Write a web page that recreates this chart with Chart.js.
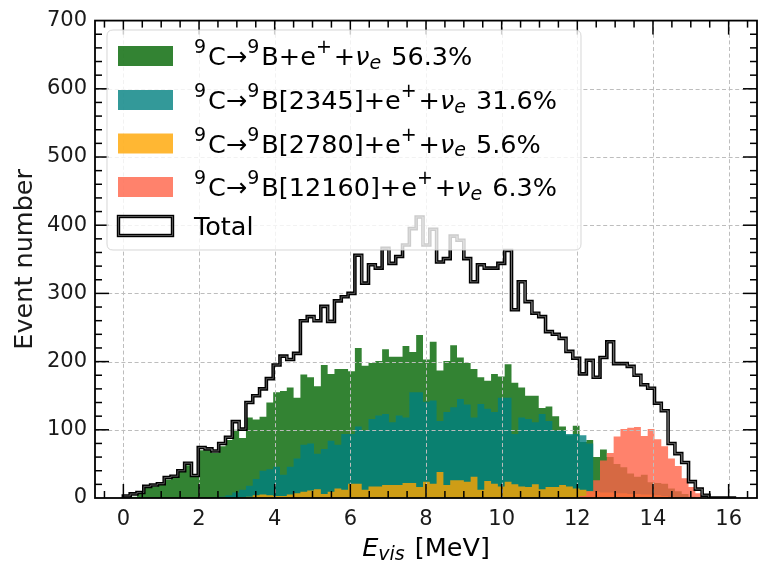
<!DOCTYPE html>
<html><head><meta charset="utf-8">
<script src="https://cdn.jsdelivr.net/npm/chart.js@4.4.1/dist/chart.umd.min.js"></script>
<style>html,body{margin:0;padding:0;background:#fff}#wrap{width:768px;height:563px}</style>
</head><body><div id="wrap"><canvas id="c" width="768" height="563"></canvas></div>
<script>
// ---------------- data ----------------
const BIN_WIDTH = 0.18; // MeV, bins start at 0
const xTickValues = [0, 2, 4, 6, 8, 10, 12, 14, 16];
const yTickValues = [0, 100, 200, 300, 400, 500, 600, 700];
const seriesLabels = [
  '^{9}C→^{9}B+e^{+}+ν_{e} 56.3%',
  '^{9}C→^{9}B[2345]+e^{+}+ν_{e} 31.6%',
  '^{9}C→^{9}B[2780]+e^{+}+ν_{e} 5.6%',
  '^{9}C→^{9}B[12160]+e^{+}+ν_{e} 6.3%'
];
const totalLabel = 'Total';
const xTitle = 'E_{vis} [MeV]';
const yTitle = 'Event number';

const groundState = [0,2,8,15,17,19,27,30,38,48, 31,70,70,66,76,85,100,88,118,115,
  119,140,155,157,162,147,181,177,164,195, 182,189,189,186,220,194,198,201,218,207,
  207,223,214,239,203,229,187,201,224,206, 198,189,177,172,182,178,196,169,162,150,
  150,132,134,120,105,92,106,82,85,60, 71,60,50,45,36,31,34,23,22,21,
  14,10,6,2,0,0,0,0,0,0];
const state2345 = [0,0,0,0,0,0,0,0,0,0, 0,0,0,1,2,4,8,12,18,28,
  40,42,46,34,46,58,78,80,65,72, 84,78,94,94,105,99,116,121,123,111,
  121,118,155,155,141,143,113,126,133,145, 137,118,138,131,126,147,147,94,118,116,
  111,123,113,99,99,94,94,92,80,0, 0,0,0,0,0,0,0,0,0,0,
  0,0,0,0,0,0,0,0,0,0];
const state2780 = [0,0,0,0,0,0,0,0,0,0, 0,0,0,0,0,0,0,1,2,4,
  5,4,3,3,5,7,9,11,13,6, 9,14,12,21,21,12,17,17,19,19,
  19,22,22,16,24,21,38,19,26,26, 24,31,12,25,21,17,24,20,17,16,
  20,13,16,16,19,17,14,12,10,9, 8,8,7,7,6,6,5,5,4,3,
  2,1,0,0,0,0,0,0,0,0];
const state12160 = [0,0,0,0,0,0,0,0,0,0, 0,0,0,0,0,0,0,0,0,0,
  0,0,0,0,0,0,0,0,0,0, 0,0,0,0,0,0,0,0,0,0,
  0,0,0,0,0,0,0,0,0,0, 0,0,0,0,0,0,0,0,0,0,
  0,0,0,0,0,0,0,3,10,26, 55,66,90,101,103,104,91,101,86,76,
  58,47,29,16,7,0,0,0,0,0];
const totalCounts = [3,6,8,17,19,21,30,32,40,51, 33,74,72,69,80,89,112,101,140,150,
  160,175,195,208,203,212,260,266,260,281, 259,289,295,300,356,315,342,337,366,344,
  354,371,395,412,371,394,346,351,384,378, 351,317,342,337,337,344,363,276,317,288,
  271,266,244,240,234,215,205,182,202,177, 206,229,197,197,193,180,166,161,139,128,
  80,65,52,24,13,4,0,0,0,0];

// ---------------- styles ----------------
const FONT = '"DejaVu Sans", "Liberation Sans", sans-serif';
const fillColors = ['rgba(0,100,0,0.8)', 'rgba(0,128,128,0.8)', 'rgba(255,165,0,0.8)', 'rgba(255,99,71,0.8)'];
const seriesValues = [groundState, state2345, state2780, state12160];
const INNER = 'rgb(105,105,105)';

function stepPoints(vals) {
  const pts = [{x: 0, y: 0}];
  vals.forEach((v, i) => {
    pts.push({x: i * BIN_WIDTH, y: v});
    pts.push({x: (i + 1) * BIN_WIDTH, y: v});
  });
  pts.push({x: vals.length * BIN_WIDTH, y: 0});
  return pts;
}

const datasets = seriesValues.map((vals, i) => ({
  label: seriesLabels[i], data: stepPoints(vals), parsing: false,
  fill: 'origin', backgroundColor: fillColors[i], borderColor: 'rgba(0,0,0,0)', borderWidth: 0,
  pointRadius: 0, tension: 0, order: 5 - i
}));
datasets.push({label: totalLabel, data: stepPoints(totalCounts), parsing: false, fill: false,
  borderColor: '#000', borderWidth: 3.6, pointRadius: 0, tension: 0, order: 1, borderJoinStyle: 'miter'});
datasets.push({label: '_inner', data: stepPoints(totalCounts), parsing: false, fill: false,
  borderColor: INNER, borderWidth: 0.8, pointRadius: 0, tension: 0, order: 0, borderJoinStyle: 'miter'});
const TOTAL_INDEX = 4;

// ---------------- rich text ----------------
function parseMarkup(s) {
  const out = []; let i = 0, buf = '';
  while (i < s.length) {
    const ch = s[i];
    if ((ch === '^' || ch === '_') && s[i + 1] === '{') {
      if (buf) { out.push({t: buf, k: 'n'}); buf = ''; }
      const j = s.indexOf('}', i);
      out.push({t: s.slice(i + 2, j), k: ch === '^' ? 'sup' : 'sub'});
      i = j + 1;
    } else { buf += ch; i++; }
  }
  if (buf) out.push({t: buf, k: 'n'});
  const res = [];
  out.forEach(tok => {
    if (tok.k !== 'n') { res.push(tok); return; }
    let cur = '';
    for (const c of tok.t) {
      if (c === 'ν' || c === 'E') { if (cur) res.push({t: cur, k: 'n'}); cur = ''; res.push({t: c, k: 'it'}); }
      else cur += c;
    }
    if (cur) res.push({t: cur, k: 'n'});
  });
  return res;
}
const SCRIPT_SCALE = 0.76;
function tokFont(k, size) {
  const small = Math.round(size * SCRIPT_SCALE);
  if (k === 'sup') return small + 'px ' + FONT;
  if (k === 'sub') return 'italic ' + small + 'px ' + FONT;
  if (k === 'it') return 'italic ' + size + 'px ' + FONT;
  return size + 'px ' + FONT;
}
function tokAdvance(ctx, tok, size) {
  ctx.font = tokFont(tok.k, size);
  let w = ctx.measureText(tok.t).width;
  if (tok.k === 'sup' || tok.k === 'sub') w += 2;
  return w;
}
function richWidth(ctx, s, size) {
  let w = 0;
  parseMarkup(s).forEach(tok => { w += tokAdvance(ctx, tok, size); });
  return w;
}
function drawRich(ctx, s, x, y, size) {
  ctx.textBaseline = 'alphabetic'; ctx.textAlign = 'left';
  parseMarkup(s).forEach(tok => {
    ctx.font = tokFont(tok.k, size);
    let dy = 0;
    if (tok.k === 'sup') dy = -0.47 * size;
    if (tok.k === 'sub') dy = 0.15 * size;
    ctx.fillText(tok.t, x, y + dy);
    x += tokAdvance(ctx, tok, size);
  });
}

// ---------------- decorations ----------------
const decor = {
  id: 'decor',
  beforeDatasetDraw(chart, args) {
    if (args.index !== TOTAL_INDEX) return;
    const {ctx, chartArea: a, scales: {x, y}} = chart;
    ctx.save();
    ctx.strokeStyle = '#bdbdbd'; ctx.lineWidth = 1; ctx.setLineDash([4, 2.6]);
    xTickValues.forEach(v => {
      const px = Math.round(x.getPixelForValue(v)) + 0.5;
      ctx.beginPath(); ctx.moveTo(px, a.top); ctx.lineTo(px, a.bottom); ctx.stroke();
    });
    yTickValues.forEach(v => {
      if (v === 0 || v === 700) return;
      const py = Math.round(y.getPixelForValue(v)) + 0.5;
      ctx.beginPath(); ctx.moveTo(a.left, py); ctx.lineTo(a.right, py); ctx.stroke();
    });
    ctx.restore();
  },
  afterDraw(chart) {
    const {ctx, chartArea: a, scales: {x, y}} = chart;
    ctx.save();
    // ticks
    ctx.strokeStyle = '#000'; ctx.lineWidth = 1.5; ctx.setLineDash([]);
    for (let v = -0.5; v <= 16.5 + 1e-9; v += 0.5) {
      const major = xTickValues.includes(v);
      const len = major ? 14 : 7;
      const px = x.getPixelForValue(v);
      ctx.beginPath(); ctx.moveTo(px, a.bottom); ctx.lineTo(px, a.bottom - len); ctx.stroke();
      ctx.beginPath(); ctx.moveTo(px, a.top); ctx.lineTo(px, a.top + len); ctx.stroke();
    }
    for (let v = 20; v < 700; v += 20) {
      const major = yTickValues.includes(v);
      const len = major ? 14 : 7;
      const py = y.getPixelForValue(v);
      ctx.beginPath(); ctx.moveTo(a.left, py); ctx.lineTo(a.left + len, py); ctx.stroke();
      ctx.beginPath(); ctx.moveTo(a.right, py); ctx.lineTo(a.right - len, py); ctx.stroke();
    }
    // frame
    ctx.lineWidth = 1.8;
    ctx.strokeRect(a.left, a.top, a.right - a.left, a.bottom - a.top);

    // legend
    const lx = 107, ly = 30, lw = 474, lh = 220, r = 6;
    ctx.beginPath();
    ctx.moveTo(lx + r, ly); ctx.lineTo(lx + lw - r, ly); ctx.quadraticCurveTo(lx + lw, ly, lx + lw, ly + r);
    ctx.lineTo(lx + lw, ly + lh - r); ctx.quadraticCurveTo(lx + lw, ly + lh, lx + lw - r, ly + lh);
    ctx.lineTo(lx + r, ly + lh); ctx.quadraticCurveTo(lx, ly + lh, lx, ly + lh - r);
    ctx.lineTo(lx, ly + r); ctx.quadraticCurveTo(lx, ly, lx + r, ly); ctx.closePath();
    ctx.fillStyle = 'rgba(255,255,255,0.8)'; ctx.fill();
    ctx.strokeStyle = 'rgba(204,204,204,0.8)'; ctx.lineWidth = 1; ctx.stroke();
    const rows = [56, 100, 143.5, 187, 226];
    const fs = 25.5;
    seriesLabels.forEach((lab, i) => {
      ctx.fillStyle = fillColors[i];
      ctx.fillRect(118, rows[i] - 10, 55, 20);
      ctx.fillStyle = '#000';
      drawRich(ctx, lab, 194, rows[i] + 9, fs);
    });
    ctx.strokeStyle = '#000'; ctx.lineWidth = 3.4;
    ctx.strokeRect(118.5, rows[4] - 9.5, 54, 19);
    ctx.strokeStyle = INNER; ctx.lineWidth = 0.8;
    ctx.strokeRect(118.5, rows[4] - 9.5, 54, 19);
    ctx.fillStyle = '#000';
    drawRich(ctx, totalLabel, 194, rows[4] + 9, fs);

    // x title
    const tw = richWidth(ctx, xTitle, 25.5);
    drawRich(ctx, xTitle, (a.left + a.right) / 2 - tw / 2, 556, 25.5);
    ctx.restore();
  }
};

new Chart(document.getElementById('c'), {
  type: 'line',
  data: {datasets},
  plugins: [decor],
  options: {
    responsive: false, animation: false, devicePixelRatio: 1,
    layout: {padding: {top: 17, right: 11, left: 0, bottom: 0}},
    plugins: {legend: {display: false}, tooltip: {enabled: false}},
    scales: {
      x: {type: 'linear', min: -0.75, max: 16.75,
        grid: {display: false, drawTicks: false}, border: {display: false},
        ticks: {stepSize: 2, includeBounds: false, autoSkip: false, maxRotation: 0,
          font: {family: FONT, size: 21}, color: '#1a1a1a', padding: 9},
        afterFit(s) { s.height = 65; }},
      y: {type: 'linear', min: 0, max: 700,
        grid: {display: false, drawTicks: false}, border: {display: false},
        ticks: {stepSize: 100, font: {family: FONT, size: 21}, color: '#1a1a1a', padding: 8},
        title: {display: true, text: yTitle, font: {family: FONT, size: 25.5}, color: '#1a1a1a', padding: {top: 10, bottom: 0}},
        afterFit(s) { s.width = 95; }}
    }
  }
});
</script></body></html>
